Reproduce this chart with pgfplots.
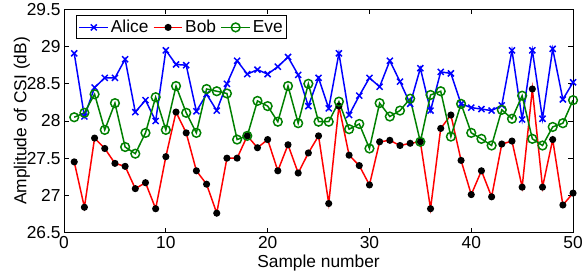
\documentclass[border=0pt]{standalone}
\usepackage{fontspec}
\setmainfont{Liberation Sans}
\usepackage{pgfplots}
\pgfplotsset{compat=1.18}
\definecolor{mblue}{rgb}{0,0,1}
\definecolor{mred}{rgb}{1,0,0}
\definecolor{mgreen}{rgb}{0,0.5,0}
\begin{document}
\begin{tikzpicture}[font=\fontsize{17.5}{20}\selectfont]
\begin{axis}[
  width=513.4pt, height=225pt, scale only axis,
  xmin=0, xmax=50, ymin=26.5, ymax=29.5,
  xtick={0,10,20,30,40,50},
  ytick={26.5,27,27.5,28,28.5,29,29.5},
  yticklabels={26.5,27,27.5,28,28.5,29,29.5},
  /pgf/number format/assume math mode=true,
  tick label style={font=\fontsize{17.5}{20}\selectfont},
  label style={font=\fontsize{17.5}{20}\selectfont},
  major tick length=5pt,
  axis line style={line width=0.9pt},
  every tick/.style={line width=0.9pt, black},
  xlabel={Sample number},
  ylabel={Amplitude of CSI (dB)},
  every axis x label/.style={at={(axis description cs:0.5,-0.138)}, anchor=center},
  every axis y label/.style={at={(axis description cs:-0.083,0.5)}, rotate=90, anchor=center},
  legend columns=-1,
  legend style={at={(rel axis cs:0.024,0.973)}, anchor=north west, draw=black, line width=0.9pt, fill=white,
    font=\fontsize{17.5}{20}\selectfont, inner xsep=2pt, inner ysep=2.5pt,
    /tikz/every even column/.append style={column sep=2.5pt}},
  legend image code/.code={\draw[mark repeat=2,mark phase=2,#1] plot coordinates {(0pt,0pt) (14.5pt,0pt) (29pt,0pt)};},
]
\addplot[color=mblue, line width=1.5pt, mark=x, mark size=4.3pt, mark options={solid, line width=1.5pt}] coordinates {
(1,28.91) (2,28.06) (3,28.45) (4,28.58) (5,28.58) (6,28.83) (7,28.12) (8,28.28) (9,28.00) (10,28.95)
(11,28.76) (12,28.75) (13,28.13) (14,28.36) (15,28.14) (16,28.50) (17,28.81) (18,28.63) (19,28.69) (20,28.63)
(21,28.73) (22,28.86) (23,28.62) (24,28.20) (25,28.58) (26,28.17) (27,28.91) (28,28.08) (29,28.34) (30,28.58)
(31,28.46) (32,28.81) (33,28.53) (34,28.23) (35,28.71) (36,28.14) (37,28.66) (38,28.64) (39,28.23) (40,28.18)
(41,28.16) (42,28.14) (43,28.21) (44,28.95) (45,28.02) (46,28.95) (47,28.03) (48,28.97) (49,28.29) (50,28.52)
};
\addlegendentry{Alice}
\addplot[color=mred, line width=1.5pt, mark=*, mark size=2.8pt, mark options={solid, fill=black, draw=black}] coordinates {
(1,27.45) (2,26.84) (3,27.77) (4,27.63) (5,27.43) (6,27.39) (7,27.09) (8,27.17) (9,26.82) (10,27.52)
(11,28.12) (12,27.84) (13,27.33) (14,27.15) (15,26.76) (16,27.50) (17,27.50) (18,27.80) (19,27.64) (20,27.75)
(21,27.33) (22,27.68) (23,27.30) (24,27.57) (25,27.80) (26,26.89) (27,28.20) (28,27.54) (29,27.40) (30,27.14)
(31,27.72) (32,27.74) (33,27.67) (34,27.70) (35,27.72) (36,26.82) (37,27.90) (38,28.08) (39,27.47) (40,27.01)
(41,27.33) (42,26.98) (43,27.69) (44,27.73) (45,27.11) (46,28.43) (47,27.11) (48,27.75) (49,26.87) (50,27.03)
};
\addlegendentry{Bob}
\addplot[color=mgreen, line width=1.5pt, mark=o, mark size=4.4pt, mark options={solid, line width=1.5pt}] coordinates {
(1,28.05) (2,28.11) (3,28.36) (4,27.88) (5,28.24) (6,27.65) (7,27.56) (8,27.84) (9,28.32) (10,27.88)
(11,28.47) (12,28.11) (13,27.84) (14,28.43) (15,28.40) (16,28.37) (17,27.75) (18,27.80) (19,28.27) (20,28.20)
(21,27.99) (22,28.47) (23,27.97) (24,28.50) (25,27.99) (26,27.99) (27,28.26) (28,27.89) (29,27.96) (30,27.63)
(31,28.24) (32,28.06) (33,28.14) (34,28.30) (35,27.72) (36,28.35) (37,28.40) (38,27.79) (39,28.23) (40,27.84)
(41,27.76) (42,27.67) (43,28.15) (44,28.03) (45,28.34) (46,27.76) (47,27.67) (48,27.92) (49,27.97) (50,28.28)
};
\addlegendentry{Eve}
\end{axis}
\path ([xshift=-64.6pt,yshift=-45pt]current axis.south west) rectangle ([xshift=8pt,yshift=7pt]current axis.north east);
\end{tikzpicture}
\end{document}
